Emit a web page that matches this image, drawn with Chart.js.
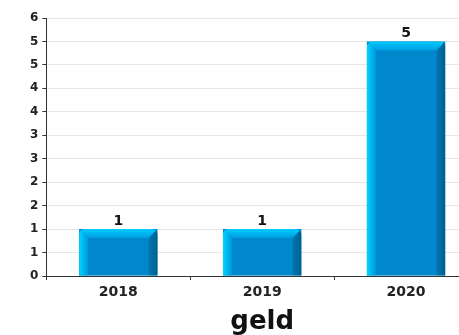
<!DOCTYPE html>
<html>
<head>
<meta charset="utf-8">
<script src="https://cdn.jsdelivr.net/npm/chart.js@4/dist/chart.umd.min.js"></script>
<style>
  html, body { margin: 0; padding: 0; overflow: hidden; background: #fff; }
  #wrap { width: 478px; height: 338px; }
</style>
</head>
<body>
<div id="wrap"><canvas id="c" width="478" height="338"></canvas></div>
<script>
const categories = ["2018", "2019", "2020"];
const values = [1, 1, 5];
const axisTitle = "geld";
const yMax = 5.5;
const yStep = 0.5;

const FONT = "'DejaVu Sans', sans-serif";

const bevelPlugin = {
  id: 'bevel',
  afterDatasetsDraw(chart) {
    const ctx = chart.ctx;
    const meta = chart.getDatasetMeta(0);
    meta.data.forEach((el, i) => {
      const w = el.width;
      const l = el.x - w / 2, r = el.x + w / 2, t = el.y, b = el.base;
      const bv = 9, rad = 6;
      ctx.save();
      ctx.beginPath();
      ctx.moveTo(l, b);
      ctx.lineTo(l, t + rad);
      ctx.quadraticCurveTo(l, t, l + rad, t);
      ctx.lineTo(r - rad, t);
      ctx.quadraticCurveTo(r, t, r, t + rad);
      ctx.lineTo(r, b);
      ctx.closePath();
      ctx.clip();
      ctx.fillStyle = '#0088cc';
      ctx.fillRect(l, t, w, b - t);
      let g = ctx.createLinearGradient(l, 0, l + bv, 0);
      g.addColorStop(0, '#00d4ff');
      g.addColorStop(1, '#0098de');
      ctx.fillStyle = g;
      ctx.beginPath();
      ctx.moveTo(l, t); ctx.lineTo(l + bv, t + bv); ctx.lineTo(l + bv, b); ctx.lineTo(l, b); ctx.closePath();
      ctx.fill();
      g = ctx.createLinearGradient(r - bv, 0, r, 0);
      g.addColorStop(0, '#0078b4');
      g.addColorStop(1, '#005e8e');
      ctx.fillStyle = g;
      ctx.beginPath();
      ctx.moveTo(r, t); ctx.lineTo(r, b); ctx.lineTo(r - bv, b); ctx.lineTo(r - bv, t + bv); ctx.closePath();
      ctx.fill();
      g = ctx.createLinearGradient(0, t, 0, t + bv);
      g.addColorStop(0, '#00ccff');
      g.addColorStop(1, '#009ce2');
      ctx.fillStyle = g;
      ctx.beginPath();
      ctx.moveTo(l, t); ctx.lineTo(r, t); ctx.lineTo(r - bv, t + bv); ctx.lineTo(l + bv, t + bv); ctx.closePath();
      ctx.fill();
      ctx.restore();
      ctx.save();
      ctx.fillStyle = '#111';
      ctx.font = "bold 14px " + FONT;
      ctx.textAlign = 'center';
      ctx.textBaseline = 'bottom';
      ctx.fillText(String(Math.round(values[i])), el.x, t - 1);
      ctx.restore();
    });
  }
};

new Chart(document.getElementById('c'), {
  type: 'bar',
  data: {
    labels: categories,
    datasets: [{
      data: values,
      backgroundColor: '#0088cc',
      borderWidth: 0,
      categoryPercentage: 1.0,
      barPercentage: 0.545
    }]
  },
  options: {
    responsive: false,
    animation: false,
    devicePixelRatio: 1,
    layout: { padding: { top: 18, right: 0, left: 26, bottom: 0 } },
    plugins: { legend: { display: false }, tooltip: { enabled: false } },
    scales: {
      x: {
        grid: { display: true, drawOnChartArea: false, offset: true, tickLength: 4, color: '#333', tickColor: '#333' },
        border: { display: true, color: '#333', width: 1 },
        ticks: { color: '#222', font: { family: FONT, weight: 'bold', size: 14 }, padding: 4 },
        title: { display: true, text: axisTitle, color: '#111', font: { family: FONT, weight: 'bold', size: 26 }, padding: { top: 2, bottom: 0 } }
      },
      y: {
        min: 0, max: yMax,
        grid: { color: '#e6e6e6', tickColor: '#333', tickLength: 4 },
        border: { display: true, color: '#333', width: 1 },
        ticks: {
          stepSize: yStep,
          color: '#222',
          font: { family: FONT, weight: 'bold', size: 12 },
          padding: 4,
          callback: (v) => String(Math.round(v))
        }
      }
    }
  },
  plugins: [bevelPlugin]
});
</script>
</body>
</html>
